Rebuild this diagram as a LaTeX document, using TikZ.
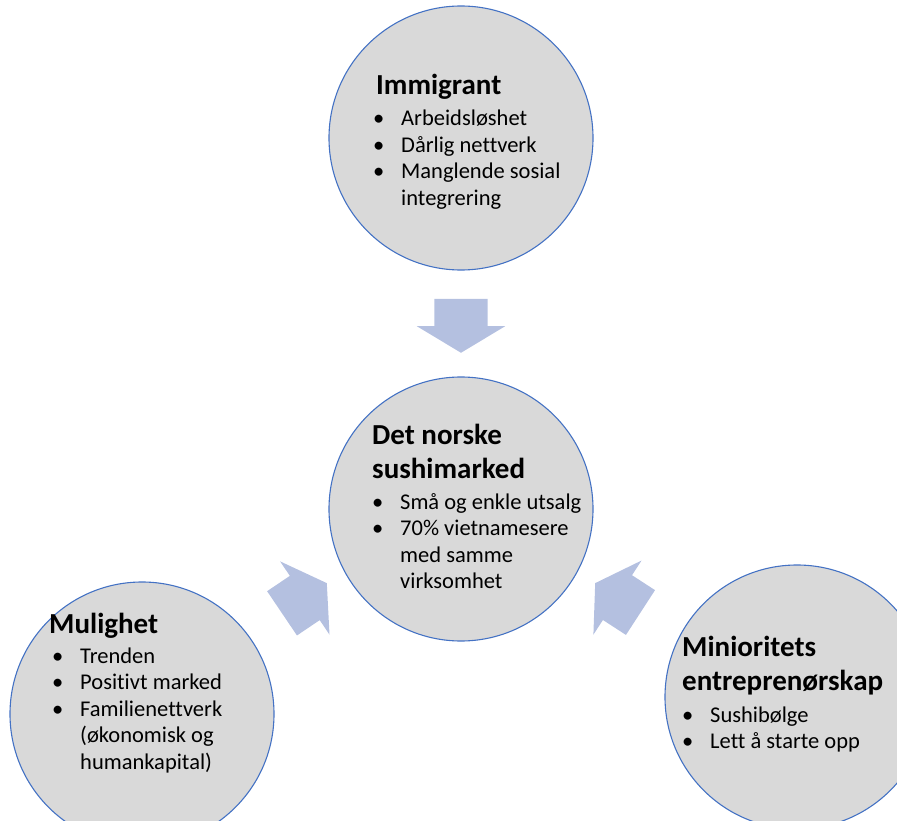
\documentclass[tikz,border=0pt]{standalone}
\usepackage{fontspec}
\setmainfont{Carlito}[Ligatures=NoCommon]
\usetikzlibrary{shapes.arrows,positioning}
\definecolor{kant}{HTML}{4472C4}
\definecolor{grafyll}{HTML}{D9D9D9}
\definecolor{pilfarge}{HTML}{B4C0E0}
\newcommand{\punkt}{\makebox[28pt][l]{\textbullet}}
\newcommand{\innrykk}{\hspace*{28pt}}
\tikzset{
  sirkel/.style={circle,draw=kant,fill=grafyll,line width=1.1pt,minimum size=264pt,inner sep=0pt},
  pil/.style={single arrow,fill=pilfarge,draw=none,inner xsep=0pt,inner ysep=26.5pt,minimum height=54pt,single arrow head extend=17.5pt,single arrow tip angle=118,anchor=tip},
  tittel/.style={anchor=base west,inner sep=0pt,font=\fontsize{29pt}{34.5pt}\selectfont\bfseries},
  punkter/.style={anchor=base west,inner sep=0pt,font=\fontsize{22.5pt}{26.5pt}\selectfont},
}

\begin{document}
\begin{tikzpicture}[x=1pt,y=-1pt]
\clip (0,0) rectangle (897,821);
\node[sirkel] (innvandrer) at (461,138) {};
\node[sirkel] (marked) at (461,509) {};
\node[sirkel] (mulighet) at (142,714) {};
\node[sirkel] (minoritet) at (797,697) {};
\node[pil,rotate=-90] (pil1) at (461,353) {};
\node[pil,rotate=34] (pil2) at (327,583) {};
\node[pil,rotate=147] (pil3) at (595,583) {};
\node[tittel] (t1) at (376,95) {Immigrant};
\node[punkter] (p1) at (373,126) {\begin{tabular}[t]{@{}l@{}}
\punkt Arbeidsløshet\\
\punkt Dårlig nettverk\\
\punkt Manglende sosial\\
\innrykk integrering
\end{tabular}};
\node[tittel] (t2) at (372,444) {\begin{tabular}[t]{@{}l@{}}
Det norske\\
sushimarked
\end{tabular}};
\node[punkter] (p2) at (372,509) {\begin{tabular}[t]{@{}l@{}}
\punkt Små og enkle utsalg\\
\punkt 70\% vietnamesere\\
\innrykk med samme\\
\innrykk virksomhet
\end{tabular}};
\node[tittel] (t3) at (49,633) {Mulighet};
\node[punkter] (p3) at (52,663) {\begin{tabular}[t]{@{}l@{}}
\punkt Trenden\\
\punkt Positivt marked\\
\punkt Familienettverk\\
\innrykk (økonomisk og\\
\innrykk humankapital)
\end{tabular}};
\node[tittel] (t4) at (682,656) {\begin{tabular}[t]{@{}l@{}}
Minioritets\\
entreprenørskap
\end{tabular}};
\node[punkter] (p4) at (682,722) {\begin{tabular}[t]{@{}l@{}}
\punkt Sushibølge\\
\punkt Lett å starte opp
\end{tabular}};
\end{tikzpicture}
\end{document}
